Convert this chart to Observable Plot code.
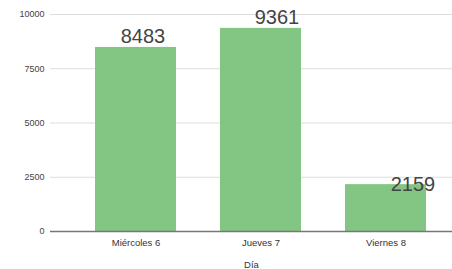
<!DOCTYPE html>
<html>
<head>
<meta charset="utf-8">
<script src="https://cdn.jsdelivr.net/npm/d3@7"></script>
<script src="https://cdn.jsdelivr.net/npm/@observablehq/plot@0.6"></script>
<style>
  html, body { margin: 0; padding: 0; background: #fff; }
  #chart svg { display: block; }
</style>
</head>
<body>
<div id="chart"></div>
<script>
const days = ["Miércoles 6", "Jueves 7", "Viernes 8"];
const values = [8483, 9361, 2159];
const yTicks = [0, 2500, 5000, 7500, 10000];
const xLabel = "Día";

const data = days.map((d, i) => ({day: d, value: values[i]}));
const font = "'Liberation Sans', Arial, sans-serif";
const labelShift = [7, 16, 27];
const labelLift = [0, 0, 10];

const chart = Plot.plot({
  width: 452,
  height: 269,
  marginLeft: 50,
  marginRight: 0,
  marginTop: 14,
  marginBottom: 38,
  style: {fontFamily: font, background: "#fff"},
  x: {type: "band", domain: days, range: [50, 471], padding: 0.352},
  y: {domain: [0, 10000], ticks: yTicks},
  marks: [
    Plot.ruleY(yTicks.filter(t => t > 0), {stroke: "#dddddd", strokeWidth: 1}),
    Plot.barY(data, {x: "day", y: "value", fill: "#83c683"}),
    Plot.ruleY([0], {stroke: "#777", strokeWidth: 1.3}),
    Plot.axisY({ticks: yTicks, tickFormat: d3.format("d"), tickSize: 0, tickPadding: 6, fontSize: 9, fill: "#444", label: null}),
    Plot.axisX({tickSize: 0, tickPadding: 8, fontSize: 9.5, fill: "#333", label: xLabel, labelAnchor: "center", labelOffset: 36, labelArrow: "none"}),
    ...data.map((d, i) => Plot.text([d], {
      x: "day", y: "value", text: d => String(d.value),
      dx: labelShift[i], dy: -4 + labelLift[i], lineAnchor: "bottom",
      fontSize: 20, fill: "#444"
    }))
  ]
});
document.getElementById("chart").appendChild(chart);
</script>
</body>
</html>
